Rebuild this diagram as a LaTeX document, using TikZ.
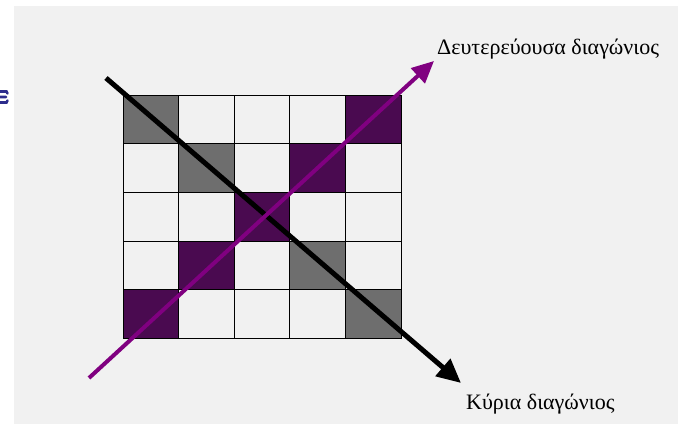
\documentclass[tikz,border=0pt]{standalone}
\usepackage{fontspec}
\setmainfont{Liberation Serif}
\usepackage{xcolor}
\usepackage{tikz}
\usetikzlibrary{arrows.meta,positioning}

\definecolor{paper}{HTML}{F1F1F1}
\definecolor{dimgreycell}{HTML}{6E6E6E}
\definecolor{darkpurplecell}{HTML}{4A0A50}
\definecolor{diagpurple}{HTML}{800080}
\definecolor{slideblue}{HTML}{2C2C8C}

\begin{document}
\begin{tikzpicture}[
    x=1pt, y=-1pt,
    cell/.style={rectangle, draw=black, line width=0.9pt, inner sep=0pt, outer sep=0pt, minimum width=55.6pt, minimum height=48.7pt},
    greycell/.style={cell, fill=dimgreycell},
    purplecell/.style={cell, fill=darkpurplecell},
    label/.style={font=\fontsize{22}{26}\selectfont, inner sep=0pt, anchor=base west},
    >=Stealth
]
    % background
    \useasboundingbox (0,0) rectangle (678,427);
    \fill[white] (0,0) rectangle (678,427);
    \fill[paper] (14,6) rectangle (678,424);
    % cut-off fragment at the left edge
    \draw[slideblue, line width=2.6pt, line cap=round] (0,91.5) -- (6.5,91.5) -- (7.5,93.5)
        (0,97) -- (6,97) (0,102.5) -- (6.5,102.5) -- (7.5,100.5);

    % 5x5 grid
    \foreach \r in {0,...,4}
        \foreach \c in {0,...,4}
            \node[cell] (c\r\c) at ({123+55.6*(\c+0.5)},{95+48.7*(\r+0.5)}) {};

    % main diagonal
    \foreach \r/\c in {0/0,1/1,3/3,4/4}
        \node[greycell] at (c\r\c) {};
    % secondary diagonal
    \foreach \r/\c in {0/4,1/3,2/2,3/1,4/0}
        \node[purplecell] at (c\r\c) {};

    % labels
    \node[label] (sec) at (437,55) {Δευτερεύουσα διαγώνιος};
    \node[label] (main) at (466,410) {Κύρια διαγώνιος};

    % diagonals
    \coordinate (mainstart) at (106,78);
    \coordinate (mainend) at (461,383);
    \coordinate (secstart) at (89,378);
    \coordinate (secend) at (434,61);
    \draw[line width=5pt, -{Triangle[length=24pt,width=22pt]}] (mainstart) -- (mainend);
    \draw[line width=4pt, diagpurple, -{Triangle[length=22pt,width=20pt]}] (secstart) -- (secend);
\end{tikzpicture}
\end{document}
